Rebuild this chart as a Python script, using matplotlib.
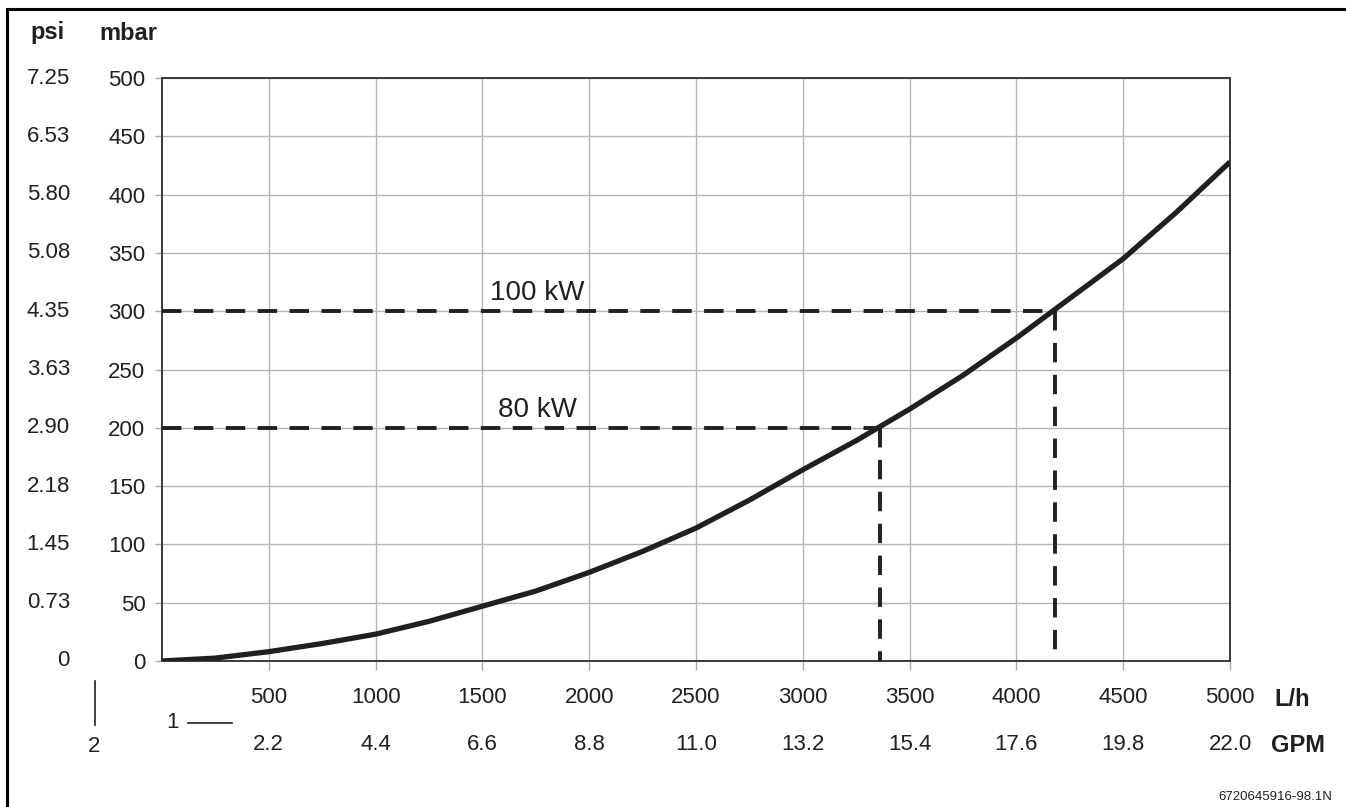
import numpy as np
import matplotlib
matplotlib.use("Agg")
import matplotlib.pyplot as plt
from matplotlib.lines import Line2D
import matplotlib.transforms as mtransforms

plt.rcParams['font.family'] = ['Liberation Sans', 'DejaVu Sans']

# ---- data ----
flow_lh = [0, 250, 500, 750, 1000, 1250, 1500, 1750, 2000, 2250, 2500,
           2750, 3000, 3250, 3500, 3750, 4000, 4250, 4500, 4750, 5000]
dp_mbar = [0, 2.5, 8, 15, 23, 34, 47, 60, 76, 94, 114,
           138, 164, 189, 216, 245, 277, 311, 345, 385, 428]

mbar_ticks = [0, 50, 100, 150, 200, 250, 300, 350, 400, 450, 500]
psi_labels = ["0", "0.73", "1.45", "2.18", "2.90", "3.63", "4.35", "5.08", "5.80", "6.53", "7.25"]
lh_ticks = [500, 1000, 1500, 2000, 2500, 3000, 3500, 4000, 4500, 5000]
gpm_labels = ["2.2", "4.4", "6.6", "8.8", "11.0", "13.2", "15.4", "17.6", "19.8", "22.0"]

# operating points (kW label, flow, pressure drop)
op_names = ["100 kW", "80 kW"]
op_flow = [4180, 3360]
op_dp = [300, 200]

dark = "#231f20"

fig = plt.figure(figsize=(13.46, 8.07), dpi=100)
ax = fig.add_axes([162 / 1346, 146 / 807, 1068 / 1346, 583 / 807])

ax.set_xlim(0, 5000)
ax.set_ylim(0, 500)
ax.set_xticks(lh_ticks)
ax.set_xticklabels([str(v) for v in lh_ticks], fontsize=16, color=dark)
ax.set_yticks(mbar_ticks)
ax.set_yticklabels([str(v) for v in mbar_ticks], fontsize=16, color=dark)
ax.tick_params(axis='x', length=6.5, width=1, color="#aaaaaa", pad=12)
ax.tick_params(axis='y', length=5, width=1, color="#aaaaaa", pad=7)
ax.grid(True, color="#b4b4b4", linewidth=1.0)
ax.set_axisbelow(True)
for s in ax.spines.values():
    s.set_color("#3a3a3a")
    s.set_linewidth(1.4)

# curve
ax.plot(flow_lh, dp_mbar, color=dark, linewidth=3.8, solid_capstyle='butt',
        solid_joinstyle='round', zorder=4)

# dashed guide lines
for name, fx, fy in zip(op_names, op_flow, op_dp):
    ax.plot([0, fx], [fy, fy], color=dark, linewidth=2.8, linestyle=(0, (5, 3.2)), zorder=3)
    ax.plot([fx, fx], [fy, 0], color=dark, linewidth=2.8, linestyle=(0, (5, 3.2)), zorder=3)
ax.text(1755, 316, op_names[0], fontsize=20, color=dark, ha='center', va='center')
ax.text(1760, 215, op_names[1], fontsize=20, color=dark, ha='center', va='center')

# psi column
ytrans = mtransforms.blended_transform_factory(fig.transFigure, ax.transData)
for v, lab in zip(mbar_ticks, psi_labels):
    ax.text(70 / 1346, v, lab, transform=ytrans, fontsize=16, color=dark,
            ha='right', va='center')

# GPM row
xtrans = mtransforms.blended_transform_factory(ax.transData, fig.transFigure)
for v, lab in zip(lh_ticks, gpm_labels):
    ax.text(v, 1 - 745 / 807, lab, transform=xtrans, fontsize=16, color=dark,
            ha='center', va='center')

# axis headers / units
fig.text(48 / 1346, 1 - 33 / 807, "psi", fontsize=17, fontweight='bold', color=dark, ha='center', va='center')
fig.text(128 / 1346, 1 - 33 / 807, "mbar", fontsize=17, fontweight='bold', color=dark, ha='center', va='center')
fig.text(1292 / 1346, 1 - 700 / 807, "L/h", fontsize=17, fontweight='bold', color=dark, ha='center', va='center')
fig.text(1298 / 1346, 1 - 745 / 807, "GPM", fontsize=17, fontweight='bold', color=dark, ha='center', va='center')

# callouts 1 and 2
fig.text(173 / 1346, 1 - 723 / 807, "1", fontsize=16, color=dark, ha='center', va='center')
fig.add_artist(Line2D([188 / 1346, 232 / 1346], [1 - 723 / 807, 1 - 723 / 807], color=dark, linewidth=1.2))
fig.text(94 / 1346, 1 - 746 / 807, "2", fontsize=16, color=dark, ha='center', va='center')
fig.add_artist(Line2D([95 / 1346, 95 / 1346], [1 - 681 / 807, 1 - 725 / 807], color=dark, linewidth=1.2))

# footnote
fig.text(1332 / 1346, 1 - 797 / 807, "6720645916-98.1N", fontsize=9.5, color=dark, ha='right', va='center')

# frame (top and left only)
fig.add_artist(Line2D([7 / 1346, 1], [1 - 9 / 807, 1 - 9 / 807], color="black", linewidth=2.2))
fig.add_artist(Line2D([7 / 1346, 7 / 1346], [1 - 9 / 807, 0], color="black", linewidth=2.2))

fig.savefig("out.png", dpi=100)
